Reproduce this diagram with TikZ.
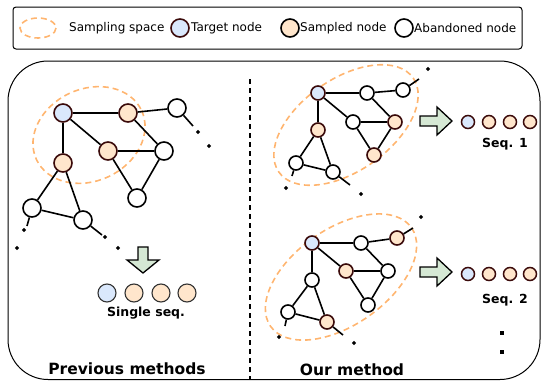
\documentclass[tikz,border=0pt]{standalone}
\usepackage{fontspec}
\setmainfont{DejaVu Sans}
\usetikzlibrary{shapes.geometric}
\definecolor{tgtfill}{HTML}{DAE8FC}
\definecolor{smpfill}{HTML}{FFE6CC}
\definecolor{nborder}{HTML}{3A0A0A}
\definecolor{ellcol}{HTML}{FFB570}
\definecolor{arrfill}{HTML}{D5E8D4}
\begin{document}
\begin{tikzpicture}[x=1pt,y=-1pt,
  edge/.style={line width=1.6pt},
  base/.style={circle,line width=1.6pt,inner sep=0pt},
  tgt/.style={base,draw=nborder,fill=tgtfill},
  smp/.style={base,draw=nborder,fill=smpfill},
  abn/.style={base,draw=black,fill=white},
  big/.style={minimum size=18pt},
  small/.style={minimum size=14pt},
  seqL/.style={circle,inner sep=0pt,minimum size=18pt,line width=1.1pt,draw=black!80},
  seqR/.style={circle,inner sep=0pt,minimum size=13pt,line width=1.5pt,draw=nborder},
  dotn/.style={diamond,fill=black,inner sep=0pt,minimum size=4.4pt},
  sqdot/.style={rectangle,fill=black,inner sep=0pt,minimum size=4pt},
  samp/.style={draw=ellcol,line width=1.6pt,dash pattern=on 6pt off 4pt},
  garrow/.style={draw=black,fill=arrfill,line width=1.3pt,line join=miter},
  lbl/.style={font=\bfseries\fontsize{12.5}{14}\selectfont,inner sep=0pt},
  title/.style={font=\bfseries\fontsize{15.5}{18}\selectfont,inner sep=0pt},
  legtxt/.style={font=\fontsize{12}{14}\selectfont,anchor=west,inner sep=0pt}
]
\useasboundingbox (0,0) rectangle (542,381);

% legend
\draw[line width=1pt,rounded corners=3pt] (13,7) rectangle (522,49);
\draw[samp] (38,28) ellipse [x radius=18,y radius=10];
\node[legtxt] (lt1) at (69,28) {Sampling space};
\node[tgt,minimum size=18pt] (lc2) at (180,28) {};
\node[legtxt] (lt2) at (191,28) {Target node};
\node[smp,minimum size=18pt,draw=black] (lc3) at (290,28) {};
\node[legtxt] (lt3) at (300,28) {Sampled node};
\node[abn,minimum size=18pt] (lc4) at (404,28) {};
\node[legtxt] (lt4) at (414,28) {Abandoned node};

% frame
\draw[line width=1pt,rounded corners=40pt] (8,61) rectangle (540,379.5);
\draw[line width=1.3pt,dash pattern=on 5pt off 4pt] (250,79) -- (250,379);

% ---------- left graph ----------
\draw[samp,rotate around={25:(89,135)}] (89,135) ellipse [x radius=58,y radius=46];
\node[tgt,big] (lT) at (63,113) {};
\node[smp,big] (lS1) at (128,113) {};
\node[smp,big] (lS2) at (108,151) {};
\node[smp,big] (lS3) at (63,163) {};
\node[abn,big] (lA1) at (177,108) {};
\node[abn,big] (lA2) at (164,151) {};
\node[abn,big] (lA3) at (137,198) {};
\node[abn,big] (lA4) at (32,208) {};
\node[abn,big] (lA5) at (83,220) {};
\draw[edge] (lT) -- (lS1);
\draw[edge] (lT) -- (lS2);
\draw[edge] (lT) -- (lS3);
\draw[edge] (lS1) -- (lA1);
\draw[edge] (lS1) -- (lA2);
\draw[edge] (lS2) -- (lA2);
\draw[edge] (lS2) -- (lA3);
\draw[edge] (lA2) -- (lA3);
\draw[edge] (lS3) -- (lA4);
\draw[edge] (lS3) -- (lA5);
\draw[edge] (lA4) -- (lA5);
\coordinate (le1) at (193,126);
\coordinate (le2) at (27,226);
\coordinate (le3) at (102,235);
\draw[edge] (lA1) -- (le1);
\draw[edge] (lA4) -- (le2);
\draw[edge] (lA5) -- (le3);
\node[dotn] (ld1a) at (198,132) {};
\node[dotn] (ld1b) at (209,146) {};
\node[dotn] (ld2a) at (24,230) {};
\node[dotn] (ld2b) at (17,248) {};
\node[dotn] (ld3a) at (105,237) {};
\node[dotn] (ld3b) at (118,248) {};

% down arrow
\draw[garrow] (138,247) -- (148,247) -- (148,260) -- (159,260) -- (143,273) -- (127,260) -- (138,260) -- cycle;
\node[seqL,fill=tgtfill] (lq1) at (107,293) {};
\node[seqL,fill=smpfill] (lq2) at (134,293) {};
\node[seqL,fill=smpfill] (lq3) at (161,293) {};
\node[seqL,fill=smpfill] (lq4) at (187,293) {};
\node[lbl] (lsl) at (146,313) {Single seq.};
\node[title] (ltitle) at (127,369) {Previous methods};

% ---------- right top graph ----------
\draw[samp,rotate around={35:(346,125)}] (346,125) ellipse [x radius=82,y radius=46];
\node[tgt,small] (aT) at (318,93) {};
\node[abn,small] (aA) at (367,93) {};
\node[abn,small] (aB) at (403,90) {};
\node[abn,small] (aC) at (353,122) {};
\node[smp,small] (aD) at (395,122) {};
\node[smp,small] (aE) at (374,155) {};
\node[smp,small] (aF) at (318,130) {};
\node[abn,small] (aG) at (296,163) {};
\node[abn,small] (aH) at (333,172) {};
\draw[edge] (aT) -- (aA);
\draw[edge] (aA) -- (aB);
\draw[edge] (aT) -- (aC);
\draw[edge] (aC) -- (aD);
\draw[edge] (aA) -- (aD);
\draw[edge] (aC) -- (aE);
\draw[edge] (aD) -- (aE);
\draw[edge] (aT) -- (aF);
\draw[edge] (aF) -- (aG);
\draw[edge] (aF) -- (aH);
\draw[edge] (aG) -- (aH);
\coordinate (ae1) at (419,79);
\coordinate (ae2) at (292,176);
\coordinate (ae3) at (350,185);
\draw[edge] (aB) -- (ae1);
\draw[edge] (aG) -- (ae2);
\draw[edge] (aH) -- (ae3);
\node[dotn] (ad1) at (428,69) {};
\node[dotn] (ad2) at (286,188) {};
\node[dotn] (ad3) at (361,194) {};

\draw[garrow] (420,116) -- (437,116) -- (437,107) -- (452,121) -- (437,135) -- (437,126) -- (420,126) -- cycle;
\node[seqR,fill=tgtfill] (aq1) at (468,122) {};
\node[seqR,fill=smpfill] (aq2) at (489,122) {};
\node[seqR,fill=smpfill] (aq3) at (510,122) {};
\node[seqR,fill=smpfill] (aq4) at (530,122) {};
\node[lbl] (asl) at (505,144) {Seq. 1};

% ---------- right bottom graph ----------
\draw[samp,rotate around={35:(341,277)}] (341,277) ellipse [x radius=86,y radius=48];
\node[tgt,small] (bT) at (312,243) {};
\node[abn,small] (bA) at (361,243) {};
\node[smp,small] (bB) at (397,238) {};
\node[smp,small] (bC) at (346,271) {};
\node[abn,small] (bD) at (388,271) {};
\node[abn,small] (bE) at (368,305) {};
\node[abn,small] (bF) at (312,280) {};
\node[abn,small] (bG) at (288,312) {};
\node[smp,small] (bH) at (327,322) {};
\draw[edge] (bT) -- (bA);
\draw[edge] (bA) -- (bB);
\draw[edge] (bT) -- (bC);
\draw[edge] (bC) -- (bD);
\draw[edge] (bA) -- (bD);
\draw[edge] (bC) -- (bE);
\draw[edge] (bD) -- (bE);
\draw[edge] (bT) -- (bF);
\draw[edge] (bF) -- (bG);
\draw[edge] (bF) -- (bH);
\draw[edge] (bG) -- (bH);
\coordinate (be1) at (413,228);
\coordinate (be2) at (285,326);
\coordinate (be3) at (343,335);
\draw[edge] (bB) -- (be1);
\draw[edge] (bG) -- (be2);
\draw[edge] (bH) -- (be3);
\node[dotn] (bd1) at (421,217) {};
\node[dotn] (bd2) at (279,337) {};
\node[dotn] (bd3) at (354,343) {};

\draw[garrow] (420,267) -- (437,267) -- (437,258) -- (452,272) -- (437,286) -- (437,277) -- (420,277) -- cycle;
\node[seqR,fill=tgtfill] (bq1) at (468,274) {};
\node[seqR,fill=smpfill] (bq2) at (489,274) {};
\node[seqR,fill=smpfill] (bq3) at (510,274) {};
\node[seqR,fill=smpfill] (bq4) at (530,274) {};
\node[lbl] (bsl) at (505,300) {Seq. 2};
\node[sqdot] (vd1) at (502,333) {};
\node[sqdot] (vd2) at (502,352) {};
\node[title] (btitle) at (352,370) {Our method};
\end{tikzpicture}
\end{document}
